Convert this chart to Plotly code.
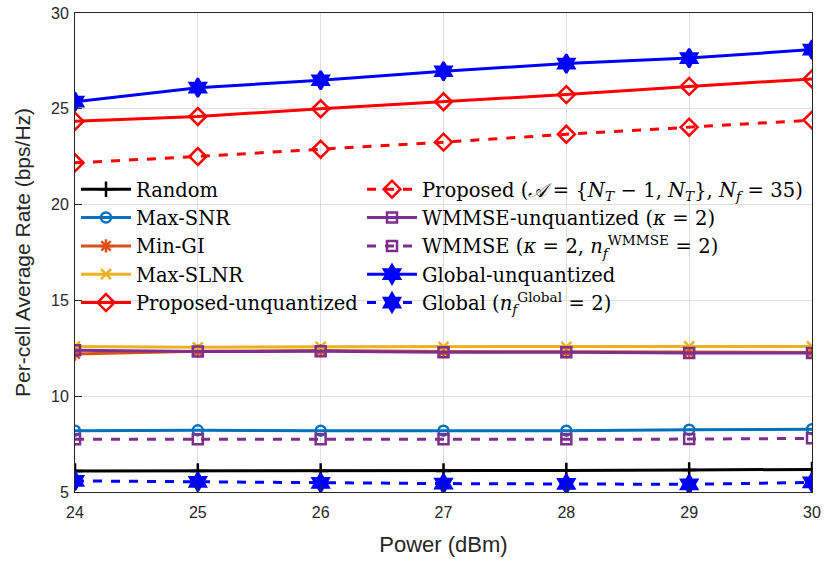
import plotly.graph_objects as go

power_dbm = [24, 25, 26, 27, 28, 29, 30]

rate_random = [6.10, 6.10, 6.10, 6.10, 6.12, 6.15, 6.18]
rate_max_snr = [8.20, 8.22, 8.20, 8.20, 8.20, 8.25, 8.28]
rate_min_gi = [12.20, 12.35, 12.38, 12.33, 12.32, 12.30, 12.28]
rate_max_slnr = [12.60, 12.55, 12.58, 12.58, 12.58, 12.60, 12.60]
rate_prop_unq = [24.35, 24.60, 25.00, 25.37, 25.74, 26.17, 26.56]
rate_prop = [22.18, 22.51, 22.89, 23.26, 23.67, 24.04, 24.41]
rate_wmmse_unq = [12.40, 12.33, 12.35, 12.30, 12.30, 12.25, 12.25]
rate_wmmse = [7.75, 7.75, 7.75, 7.75, 7.75, 7.76, 7.80]
rate_global_unq = [25.37, 26.10, 26.49, 26.96, 27.36, 27.65, 28.09]
rate_global = [5.58, 5.53, 5.48, 5.44, 5.42, 5.40, 5.50]

SP = "\u2004"  # three-per-em space, for math-style spacing around relations
labels = [
    "Random",
    "Max-SNR",
    "Min-GI",
    "Max-SLNR",
    "Proposed-unquantized",
    f"Proposed (<i>𝒜</i>{SP}={SP}{{<i>N</i><sub><i>T</i></sub>{SP}−{SP}1, <i>N</i><sub><i>T</i></sub>}}, <i>N</i><sub><i>f</i></sub>{SP}={SP}35)",
    f"WMMSE-unquantized (<i>κ</i>{SP}={SP}2)",
    f"WMMSE (<i>κ</i>{SP}={SP}2, <i>n</i><sub><i>f</i></sub><sup>WMMSE</sup>{SP}={SP}2)",
    "Global-unquantized",
    f"Global (<i>n</i><sub><i>f</i></sub><sup>Global</sup>{SP}={SP}2)",
]

series = [
    (rate_random, "#000000", "solid", "cross-thin-open", 11, "legend"),
    (rate_max_snr, "#0072BD", "solid", "circle-open", 10, "legend"),
    (rate_min_gi, "#D95319", "solid", "asterisk-open", 11, "legend"),
    (rate_max_slnr, "#EDB120", "solid", "x-thin-open", 10, "legend"),
    (rate_prop_unq, "#FF0000", "solid", "diamond-open", 13, "legend"),
    (rate_prop, "#FF0000", "dash", "diamond-open", 13, "legend2"),
    (rate_wmmse_unq, "#7E2F8E", "solid", "square-open", 10, "legend2"),
    (rate_wmmse, "#7E2F8E", "dash", "square-open", 10, "legend2"),
    (rate_global_unq, "#0000FF", "solid", "hexagram", 14, "legend2"),
    (rate_global, "#0000FF", "dash", "hexagram", 14, "legend2"),
]

fig = go.Figure()
for (vals, color, dash, symbol, msize, leg), name in zip(series, labels):
    fig.add_trace(go.Scatter(
        x=power_dbm, y=vals, name=name, mode="lines+markers",
        line=dict(color=color, width=3, dash=dash),
        marker=dict(symbol=symbol, size=msize, color=color,
                    line=dict(color=color, width=2.5)),
        legend=leg,
    ))

# plot area in pixels: left 75, right 812, top 13, bottom 492
PX_L, PX_R, PX_T, PX_B = 75, 812, 13, 492
def px_x(px):
    return (px - PX_L) / (PX_R - PX_L)
def px_y(py):
    return (PX_B - py) / (PX_B - PX_T)

legend_font = dict(family="DejaVu Serif", size=19.5, color="#000000")

axis_common = dict(
    showgrid=True, gridcolor="#DFDFDF", gridwidth=1,
    showline=True, linecolor="#262626", linewidth=1, mirror=True,
    ticks="inside", ticklen=7, tickcolor="#262626",
    tickfont=dict(family="Liberation Sans", size=16, color="#262626"),
    zeroline=False, automargin=False,
)

fig.update_layout(
    width=825, height=565,
    margin=dict(l=PX_L, r=825 - PX_R, t=PX_T, b=565 - PX_B, autoexpand=False),
    paper_bgcolor="white", plot_bgcolor="white",
    showlegend=True,
    legend=dict(x=px_x(76), y=px_y(170), xanchor="left", yanchor="top",
                bgcolor="rgba(0,0,0,0)", borderwidth=0, font=legend_font,
                itemwidth=50, tracegroupgap=0),
    legend2=dict(x=px_x(362), y=px_y(170), xanchor="left", yanchor="top",
                 bgcolor="rgba(0,0,0,0)", borderwidth=0, font=legend_font,
                 itemwidth=50, tracegroupgap=0),
    xaxis=dict(axis_common, range=[24, 30], dtick=1, ticklabelstandoff=6,
               title=dict(text="Power (dBm)",
                          font=dict(family="Liberation Sans", size=22, color="#262626"),
                          standoff=16)),
    yaxis=dict(axis_common, range=[5, 30], dtick=5, ticklabelstandoff=2,
               title=dict(text="Per-cell Average Rate (bps/Hz)",
                          font=dict(family="Liberation Sans", size=21, color="#262626"),
                          standoff=14)),
)

fig.write_html("out.html")
